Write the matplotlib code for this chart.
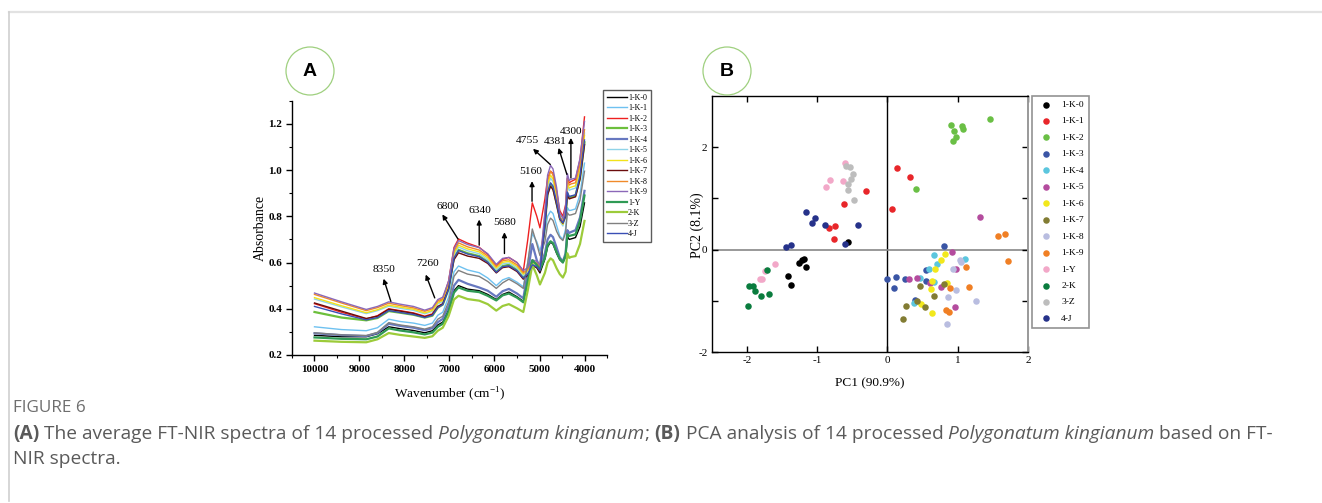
import matplotlib
matplotlib.use("Agg")
import matplotlib.pyplot as plt
from matplotlib.patches import Ellipse
from matplotlib.lines import Line2D
from matplotlib.ticker import MultipleLocator, FixedLocator

W, H, DPI = 1322, 503, 100
SERIF = "Liberation Serif"
CAPTION_FONT = "Open Sans"
plt.rcParams["axes.unicode_minus"] = False

# ---- panel A: average FT-NIR spectra (absorbance at knot wavenumbers) ----
WAVENUMBER = [10000, 9400, 8850, 8600, 8350, 8100, 7800, 7550, 7380, 7260, 7150, 7020,
              6900, 6800, 6600, 6340, 6150, 5960, 5820, 5680, 5500, 5360, 5260, 5160,
              5060, 4990, 4880, 4820, 4755, 4700, 4620, 4550, 4480, 4420, 4381, 4340,
              4300, 4200, 4100, 4000]

K0 = [.285, .279, .279, .292, .322, .314, .306, .296, .305, .330, .342, .395, .478, .500, .485, .478, .462, .440,
      .462, .472, .452, .432, .520, .600, .578, .555, .615, .668, .688, .680, .640, .612, .600, .625, .712, .700,
      .702, .708, .755, .858]
K1 = [.322, .310, .305, .318, .355, .345, .338, .328, .338, .372, .385, .450, .560, .585, .568, .556, .533, .500,
      .525, .535, .515, .495, .600, .725, .690, .650, .730, .800, .822, .812, .760, .715, .700, .745, .838, .825,
      .826, .832, .895, 1.030]
K2 = [.422, .385, .356, .370, .400, .392, .382, .368, .378, .425, .440, .520, .665, .702, .684, .666, .635, .585,
      .614, .622, .600, .562, .700, .858, .800, .750, .875, .965, .995, .985, .910, .825, .800, .850, .965, .945,
      .950, .960, 1.045, 1.230]
K3 = [.386, .362, .350, .360, .390, .383, .374, .362, .370, .405, .418, .485, .622, .655, .640, .628, .604, .560,
      .585, .590, .568, .535, .552, .592, .585, .568, .765, .900, .940, .925, .855, .795, .775, .800, .900, .880,
      .884, .890, .965, 1.120]
K4 = [.294, .286, .282, .295, .335, .326, .318, .307, .316, .342, .356, .412, .500, .525, .508, .492, .478, .452,
      .476, .486, .466, .445, .560, .680, .610, .580, .640, .700, .720, .710, .665, .622, .605, .640, .740, .728,
      .732, .740, .795, .910]
K5 = [.442, .408, .379, .392, .411, .402, .393, .378, .389, .421, .431, .498, .632, .667, .651, .638, .612, .569,
      .594, .598, .576, .544, .560, .598, .588, .572, .788, .925, .965, .950, .880, .780, .758, .805, .935, .912,
      .916, .922, 1.000, 1.160]
K6 = [.448, .413, .383, .396, .416, .407, .398, .382, .393, .426, .436, .505, .640, .675, .659, .646, .620, .576,
      .601, .605, .583, .550, .565, .600, .592, .577, .795, .938, .978, .962, .890, .788, .765, .812, .945, .922,
      .926, .932, 1.000, 1.150]
K7 = [.425, .390, .358, .368, .398, .390, .380, .365, .375, .410, .422, .488, .612, .642, .628, .618, .596, .555,
      .578, .582, .561, .528, .545, .585, .578, .560, .760, .892, .930, .915, .850, .788, .770, .800, .895, .875,
      .878, .884, .960, 1.110]
K8 = [.462, .425, .392, .405, .424, .414, .404, .389, .400, .434, .444, .512, .650, .685, .668, .654, .628, .583,
      .608, .612, .590, .556, .570, .605, .598, .582, .805, .955, .995, .980, .905, .798, .775, .825, .960, .935,
      .940, .945, 1.025, 1.175]
K9 = [.468, .430, .397, .410, .430, .420, .410, .394, .405, .440, .450, .520, .660, .695, .678, .664, .638, .592,
      .618, .622, .600, .565, .578, .612, .605, .590, .820, .978, 1.020, 1.005, .925, .815, .790, .840, .985, .955,
      .960, .965, 1.050, 1.210]
Y1 = [.276, .270, .268, .280, .315, .306, .298, .289, .297, .322, .335, .388, .470, .492, .478, .472, .456, .436,
      .458, .466, .448, .428, .520, .610, .590, .570, .620, .675, .692, .684, .645, .615, .600, .630, .722, .715,
      .717, .722, .780, .890]
K2K = [.262, .257, .255, .268, .295, .287, .280, .274, .281, .305, .318, .368, .440, .456, .442, .435, .420, .392,
       .412, .420, .402, .386, .480, .590, .545, .505, .555, .600, .618, .610, .575, .550, .535, .560, .640, .620,
       .624, .628, .680, .780]
Z3 = [.296, .287, .284, .298, .340, .330, .322, .312, .322, .355, .368, .430, .540, .566, .550, .540, .518, .488,
      .512, .528, .508, .488, .600, .745, .680, .630, .690, .765, .792, .782, .735, .708, .695, .730, .815, .805,
      .806, .812, .870, .995]
J4 = [.410, .378, .352, .362, .392, .384, .375, .362, .372, .405, .418, .485, .620, .652, .637, .625, .601, .558,
      .582, .586, .565, .533, .550, .590, .582, .565, .765, .905, .945, .930, .860, .792, .772, .805, .905, .885,
      .888, .893, .975, 1.130]

SPEC_LABELS = ["1-K-0", "1-K-1", "1-K-2", "1-K-3", "1-K-4", "1-K-5", "1-K-6",
               "1-K-7", "1-K-8", "1-K-9", "1-Y", "2-K", "3-Z", "4-J"]
SPEC_VALUES = [K0, K1, K2, K3, K4, K5, K6, K7, K8, K9, Y1, K2K, Z3, J4]
SPEC_COLORS = ["#000000", "#6ec1f0", "#ee2020", "#6cbf3c", "#6778c0", "#8fd3e8", "#f2e21a",
               "#6b0d0d", "#f08a2a", "#8b68b8", "#2f9a55", "#9ccb3a", "#808080", "#3a4fb5"]

# peak annotations: label, text position, arrow head, arrow tail
PEAKS = ["8350", "7260", "6800", "6340", "5680", "5160", "4755", "4381", "4300"]
PEAK_TEXT = [(8458, .571), (7491, .594), (7048, .844), (6325, .826), (5779, .771),
             (5188, .992), (5277, 1.128), (4650, 1.124), (4290, 1.166)]
PEAK_HEAD = [(8465, .530), (7528, .548), (7159, .808), (6340, .786), (5779, .731),
             (5166, .952), (5144, 1.092), (4576, 1.096), (4302, 1.139)]
PEAK_TAIL = [(8303, .432), (7328, .447), (6812, .702), (6340, .675), (5779, .639),
             (5166, .865), (4760, 1.024), (4391, .981), (4302, .966)]

# ---- panel B: PCA scores ----
PCA_LABELS = SPEC_LABELS
PCA_COLORS = ["#000000", "#e8262a", "#6abf45", "#3a55a5", "#5bc6de", "#b44c9e", "#f2e81c",
              "#827c33", "#b9bde0", "#f07f24", "#f2a8c8", "#0a7c3e", "#bdbdbd", "#26328a"]
PC1 = [
    [-0.557, -1.257, -1.214, -1.181, -1.152, -1.414, -1.367],
    [0.133, 0.324, -0.305, -0.619, 0.071, -0.743, -0.833, -0.757],
    [0.905, 0.943, 1.057, 1.071, 0.929, 0.981, 1.462, 0.410],
    [0.800, 0.0, 0.124, 0.243, 0.095, 0.548, 0.552, 0.395],
    [0.657, 0.705, 0.590, 0.457, 0.381, 1.110, 0.657],
    [0.919, 1.310, 0.976, 0.300, 0.419, 0.610, 0.762, 0.967],
    [0.814, 0.767, 0.681, 0.633, 0.619, 0.476, 0.633, 0.848],
    [0.800, 0.457, 0.667, 0.419, 0.262, 0.538, 0.219],
    [1.029, 1.048, 0.933, 0.976, 0.857, 1.267, 0.843],
    [1.571, 1.676, 1.710, 1.124, 1.167, 0.895, 0.829, 0.876],
    [-0.605, -0.810, -0.876, -0.629, -1.605, -1.748, -1.819, -1.781],
    [-1.714, -1.976, -1.914, -1.890, -1.805, -1.686, -1.986],
    [-0.595, -0.538, -0.495, -0.519, -0.557, -0.567, -0.481],
    [-1.152, -1.029, -1.071, -0.881, -0.414, -0.605, -1.376, -1.448],
]
PC2 = [
    [0.143, -0.267, -0.202, -0.189, -0.332, -0.515, -0.691],
    [1.590, 1.414, 1.134, 0.893, 0.788, 0.469, 0.417, 0.202],
    [2.423, 2.306, 2.404, 2.358, 2.124, 2.189, 2.547, 1.179],
    [0.078, -0.580, -0.541, -0.573, -0.756, -0.404, -0.612, -0.984],
    [-0.104, -0.274, -0.384, -0.547, -1.036, -0.176, -0.625],
    [-0.039, 0.645, -0.378, -0.580, -0.560, -0.658, -0.723, -1.114],
    [-0.091, -0.202, -0.384, -0.606, -0.762, -1.062, -1.225, -0.658],
    [-0.671, -0.710, -0.906, -0.997, -1.094, -1.114, -1.349],
    [-0.202, -0.235, -0.371, -0.795, -0.932, -1.010, -1.446],
    [0.274, 0.306, -0.221, -0.332, -0.723, -0.756, -1.179, -1.218],
    [1.687, 1.362, 1.225, 1.336, -0.274, -0.410, -0.580, -0.580],
    [-0.397, -0.710, -0.704, -0.808, -0.899, -0.866, -1.101],
    [1.635, 1.609, 1.472, 1.375, 1.283, 1.166, 0.971],
    [0.730, 0.612, 0.515, 0.476, 0.489, 0.104, 0.091, 0.059],
]

CAPTION_TITLE = "FIGURE 6"
CAPTION_LINE1 = [("(A)", "bold"), (" The average FT-NIR spectra of 14 processed", "normal"),
                 (" Polygonatum kingianum", "italic"), (";", "normal"), (" (B)", "bold"),
                 (" PCA analysis of 14 processed", "normal"), (" Polygonatum kingianum", "italic"),
                 (" based on FT-", "normal")]
CAPTION_LINE2 = [("NIR spectra.", "normal")]


def fig_rect(left, top, right, bottom):
    """Pixel box -> figure-fraction [l, b, w, h]."""
    return [left / W, 1 - bottom / H, (right - left) / W, (bottom - top) / H]


def rich_line(fig, x_px, y_px, parts, size, color):
    """Lay out mixed bold/italic runs on one line, measuring each run."""
    renderer = fig.canvas.get_renderer()
    base = dict(fontsize=size, color=color, family=CAPTION_FONT, va="center", ha="left")
    probe = fig.text(0, 0, "a a", **base)
    probe2 = fig.text(0, 0, "aa", **base)
    space = (probe.get_window_extent(renderer).width - probe2.get_window_extent(renderer).width) / W
    probe.remove()
    probe2.remove()
    x = x_px / W
    for txt, style in parts:
        if txt.startswith(" "):
            x += space
            txt = txt[1:]
        kw = dict(base)
        if style == "bold":
            kw["fontweight"] = "bold"
        elif style == "italic":
            kw["fontstyle"] = "italic"
        t = fig.text(x, 1 - y_px / H, txt, **kw)
        x += t.get_window_extent(renderer).width / W


def panel_badge(fig, cx, cy, letter):
    fig.add_artist(Ellipse((cx / W, 1 - cy / H), 48 / W, 48 / H, transform=fig.transFigure,
                           facecolor="none", edgecolor="#9fd07f", lw=0.9))
    fig.text(cx / W, 1 - cy / H, letter, ha="center", va="center", fontsize=14,
             fontweight="bold", family="Liberation Sans")


fig = plt.figure(figsize=(W / DPI, H / DPI), dpi=DPI)

# frame lines of the page
fig.add_artist(Line2D([9 / W, 1], [1 - 12 / H] * 2, transform=fig.transFigure, color="#e2e2e2", lw=1.6))
fig.add_artist(Line2D([9 / W] * 2, [1 - 12 / H, 1 - 501 / H], transform=fig.transFigure, color="#cfcfcf", lw=1.2))

# ---------- panel A ----------
axA = fig.add_axes(fig_rect(292, 100.7, 607, 355))
for lab, vals, col in zip(SPEC_LABELS, SPEC_VALUES, SPEC_COLORS):
    lw = 1.6 if lab in ("1-K-3", "1-K-4", "1-Y", "2-K") else 1.0
    axA.plot(WAVENUMBER, vals, color=col, lw=lw, label=lab)
axA.set_xlim(10500, 3500)
axA.set_ylim(0.2, 1.3)
axA.xaxis.set_major_locator(FixedLocator([10000, 9000, 8000, 7000, 6000, 5000, 4000]))
axA.xaxis.set_minor_locator(MultipleLocator(500))
axA.yaxis.set_major_locator(FixedLocator([0.2, 0.4, 0.6, 0.8, 1.0, 1.2]))
axA.yaxis.set_minor_locator(MultipleLocator(0.1))
axA.set_yticklabels(["0.2", "0.4", "0.6", "0.8", "1.0", "1.2"])
axA.set_xticklabels(["10000", "9000", "8000", "7000", "6000", "5000", "4000"])
for s in ("top", "right"):
    axA.spines[s].set_visible(False)
for s in ("left", "bottom"):
    axA.spines[s].set_linewidth(1.0)
axA.tick_params(which="major", direction="out", length=4, width=1, pad=3)
axA.tick_params(which="minor", direction="out", length=2.5, width=0.8)
for lbl in axA.get_xticklabels() + axA.get_yticklabels():
    lbl.set_fontfamily(SERIF)
    lbl.set_fontweight("bold")
    lbl.set_fontsize(8)
axA.set_ylabel("Absorbance", family=SERIF, fontsize=10)
axA.yaxis.set_label_coords(-0.079, 0.5)
axA.set_xlabel(r"Wavenumber (cm$^{\mathregular{-1}}$)", family=SERIF, fontsize=9.5)
axA.xaxis.set_label_coords(0.5, -0.118)
for lab, tpos, head, tail in zip(PEAKS, PEAK_TEXT, PEAK_HEAD, PEAK_TAIL):
    axA.annotate("", xy=head, xytext=tail,
                 arrowprops=dict(arrowstyle="-|>", color="black", lw=1.0, mutation_scale=7,
                                 shrinkA=0, shrinkB=0))
    axA.text(tpos[0], tpos[1], lab, ha="center", va="center", family=SERIF, fontsize=8.2)
legA = axA.legend(loc="upper left", bbox_to_anchor=(603 / W, 1 - 90 / H), bbox_transform=fig.transFigure,
                  prop=dict(family=SERIF, size=5.8), handlelength=2.5, handletextpad=0.15,
                  labelspacing=0.31, borderpad=0.45, borderaxespad=0, frameon=True, fancybox=False)
legA.get_frame().set_edgecolor("#333333")
legA.get_frame().set_linewidth(1.0)

# ---------- panel B ----------
axB = fig.add_axes(fig_rect(711.7, 95.7, 1028, 352.3))
for lab, xs, ys, col in zip(PCA_LABELS, PC1, PC2, PCA_COLORS):
    axB.scatter(xs, ys, s=22, color=col, label=lab, linewidths=0, zorder=3)
axB.axvline(0, color="black", lw=1.0, zorder=1)
axB.axhline(0, color="#888888", lw=1.2, zorder=1)
axB.set_xlim(-2.5, 2)
axB.set_ylim(-2, 3)
axB.xaxis.set_major_locator(FixedLocator([-2, -1, 0, 1, 2]))
axB.set_xticklabels(["-2", "-1", "0", "1", "2"])
axB.yaxis.set_major_locator(FixedLocator([-2, 0, 2]))
axB.set_yticklabels(["-2", "0", "2"])
axB.yaxis.set_minor_locator(FixedLocator([-1, 1]))
axB.tick_params(which="both", direction="in", top=True, right=True, length=4, width=1, pad=3)
for s in ("left", "bottom", "top"):
    axB.spines[s].set_linewidth(1.0)
axB.spines["right"].set_color("#999999")
axB.spines["right"].set_linewidth(1.4)
for lbl in axB.get_xticklabels() + axB.get_yticklabels():
    lbl.set_fontfamily(SERIF)
    lbl.set_fontsize(8)
axB.set_xlabel("PC1 (90.9%)", family=SERIF, fontsize=9.5)
axB.xaxis.set_label_coords(0.5, -0.096)
axB.set_ylabel("PC2 (8.1%)", family=SERIF, fontsize=10)
axB.yaxis.set_label_coords(-0.024, 0.496)
legB = axB.legend(loc="upper left", bbox_to_anchor=(1032 / W, 1 - 95.7 / H), bbox_transform=fig.transFigure,
                  prop=dict(family=SERIF, size=6.8), scatterpoints=1, handlelength=2.0,
                  handletextpad=0.6, labelspacing=0.83, borderpad=0.5, borderaxespad=0,
                  frameon=True, fancybox=False)
legB.get_frame().set_edgecolor("#777777")
legB.get_frame().set_linewidth(1.2)

panel_badge(fig, 310, 71, "A")
panel_badge(fig, 727, 71, "B")

# ---------- caption ----------
fig.text(13 / W, 1 - 408 / H, CAPTION_TITLE, family=CAPTION_FONT, fontsize=12.3, color="#6e6e6e",
         va="center", ha="left")
rich_line(fig, 13, 434, CAPTION_LINE1, 13.8, "#5a5a5a")
rich_line(fig, 13, 459, CAPTION_LINE2, 13.8, "#5a5a5a")

fig.savefig("out.png", dpi=DPI)
